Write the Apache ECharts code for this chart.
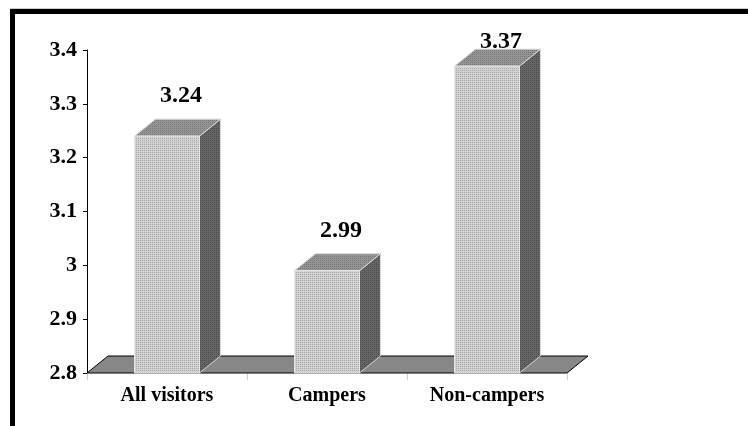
<!DOCTYPE html>
<html>
<head>
<meta charset="utf-8">
<script src="https://cdn.jsdelivr.net/npm/echarts@6/dist/echarts.min.js"></script>
<style>
  html, body { margin: 0; padding: 0; background: #fff; }
  #main { width: 748px; height: 426px; }
</style>
</head>
<body>
<div id="main"></div>
<script>
// chart data
var categories = ['All visitors', 'Campers', 'Non-campers'];
var values = [3.24, 2.99, 3.37];
var yTicks = [2.8, 2.9, 3, 3.1, 3.2, 3.3, 3.4];

var DEPTH_X = 21, DEPTH_Y = -17;
var SERIF = '"Liberation Serif", "Times New Roman", serif';

// small dithered textures, like the old office chart fill
function makePattern(a, b) {
  var c = document.createElement('canvas');
  c.width = 4; c.height = 4;
  var ctx = c.getContext('2d');
  ctx.fillStyle = a;
  ctx.fillRect(0, 0, 4, 4);
  ctx.fillStyle = b;
  ctx.fillRect(0, 0, 1, 1);
  ctx.fillRect(2, 2, 1, 1);
  ctx.fillRect(2, 0, 1, 1);
  ctx.fillRect(0, 2, 1, 1);
  return { image: c, repeat: 'repeat' };
}
var frontFill = makePattern('#d2d2d2', '#a9a9a9');
var topFill = makePattern('#959595', '#767676');
var sideFill = makePattern('#666666', '#4c4c4c');

var myChart = echarts.init(document.getElementById('main'));

function renderFloor(params, api) {
  var cs = params.coordSys;
  var x0 = cs.x, x1 = cs.x + cs.width, y0 = cs.y + cs.height;
  return {
    type: 'polygon',
    shape: {
      points: [[x0, y0], [x1, y0], [x1 + DEPTH_X, y0 + DEPTH_Y], [x0 + DEPTH_X, y0 + DEPTH_Y]]
    },
    style: { fill: '#878787', stroke: '#000', lineWidth: 1 }
  };
}

function renderBar(params, api) {
  var top = api.coord([api.value(0), api.value(1)]);
  var base = api.coord([api.value(0), yTicks[0]]);
  var w = api.size([1, 0])[0] * 0.406;
  var l = top[0] - w / 2, r = top[0] + w / 2;
  var t = top[1], b = base[1];
  var labelY = Math.max(t - 40, 42);
  return {
    type: 'group',
    children: [
      {
        type: 'polygon',
        shape: { points: [[r, t], [r + DEPTH_X, t + DEPTH_Y], [r + DEPTH_X, b + DEPTH_Y], [r, b]] },
        style: { fill: sideFill, stroke: '#d8d8d8', lineWidth: 1 }
      },
      {
        type: 'polygon',
        shape: { points: [[l, t], [l + DEPTH_X, t + DEPTH_Y], [r + DEPTH_X, t + DEPTH_Y], [r, t]] },
        style: { fill: topFill, stroke: '#d8d8d8', lineWidth: 1 }
      },
      {
        type: 'rect',
        shape: { x: l, y: t, width: w, height: b - t },
        style: { fill: frontFill, stroke: '#e6e6e6', lineWidth: 1 }
      },
      {
        type: 'text',
        x: top[0] + 14,
        y: labelY,
        style: {
          text: String(api.value(1)),
          fill: '#000',
          font: 'bold 24px ' + SERIF,
          align: 'center',
          verticalAlign: 'middle'
        }
      }
    ]
  };
}

var option = {
  animation: false,
  backgroundColor: '#fff',
  grid: { left: 87, right: 181, top: 50, bottom: 53 },
  graphic: [
    { type: 'rect', shape: { x: 10, y: 8, width: 738, height: 1 }, style: { fill: '#cfcfcf' } },
    { type: 'rect', shape: { x: 10, y: 9, width: 738, height: 5 }, style: { fill: '#000' } },
    { type: 'rect', shape: { x: 10, y: 9, width: 5, height: 417 }, style: { fill: '#000' } }
  ],
  xAxis: {
    type: 'category',
    data: categories,
    axisLine: { show: false },
    axisTick: { show: true, length: 7, lineStyle: { color: '#d0d0d0' } },
    axisLabel: {
      margin: 13,
      color: '#000',
      fontSize: 20,
      fontWeight: 'bold',
      fontFamily: SERIF
    },
    splitLine: { show: false }
  },
  yAxis: {
    type: 'value',
    min: yTicks[0],
    max: yTicks[yTicks.length - 1],
    interval: 0.1,
    axisLine: { show: true, lineStyle: { color: '#000', width: 1 } },
    axisTick: { show: true, length: 4, lineStyle: { color: '#000' } },
    axisLabel: {
      margin: 10,
      color: '#000',
      fontSize: 22,
      fontWeight: 'bold',
      fontFamily: SERIF
    },
    splitLine: { show: false }
  },
  series: [
    {
      type: 'custom',
      renderItem: renderFloor,
      data: [[0, yTicks[0]]],
      clip: false,
      silent: true,
      z: 1
    },
    {
      type: 'custom',
      renderItem: renderBar,
      data: categories.map(function (c, i) { return [i, values[i]]; }),
      encode: { x: 0, y: 1 },
      clip: false,
      z: 2
    }
  ]
};

myChart.setOption(option);
</script>
</body>
</html>
